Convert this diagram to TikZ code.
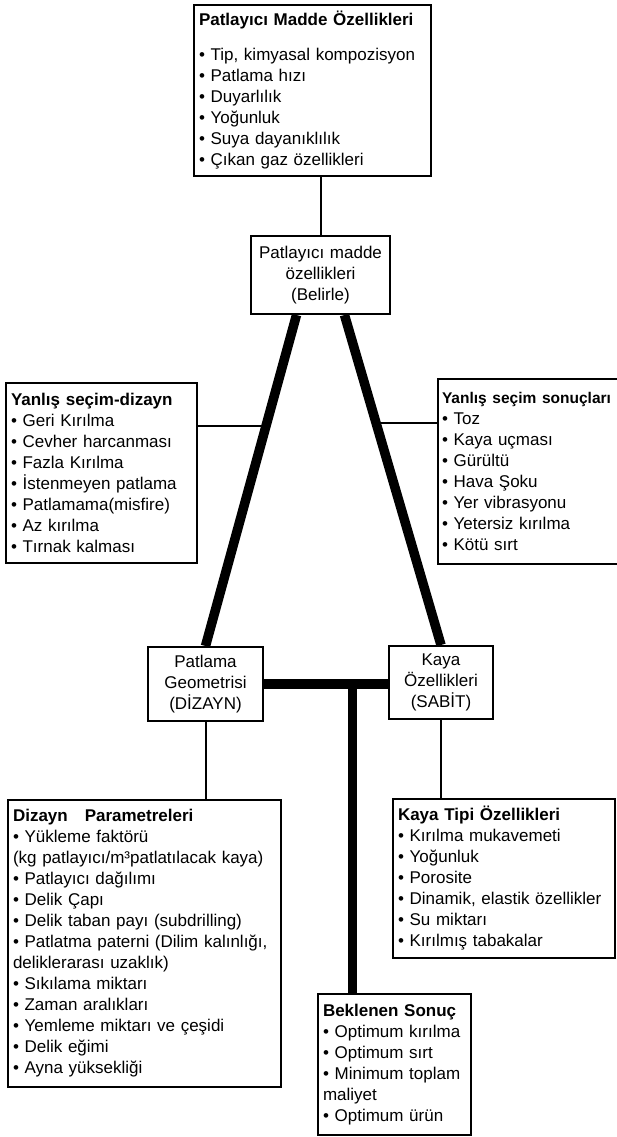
\documentclass[tikz,border=0pt]{standalone}
\usepackage{fontspec}
\setmainfont{Liberation Sans}
\usetikzlibrary{calc}

\begin{document}
\begin{tikzpicture}
[x=1pt,y=-1pt,
  boxDecorate/.style={draw,line width=2pt,anchor=north west,inner xsep=5pt,inner ysep=0pt,font=\fontsize{17}{21}\selectfont},%
  listDecorate/.style={boxDecorate,align=left},%
  mainDecorate/.style={boxDecorate,align=center},%
  lineDecorate/.style={-,line width=2pt},%
  barDecorate/.style={-,line width=9.5pt}]
\useasboundingbox (0,0) rectangle (617,1137);
%% boxes
\node (props) at (193,4) [listDecorate,text width=227pt,minimum height=171pt]
  {\textbf{Patlayıcı Madde Özellikleri}\\[14pt]
   • Tip, kimyasal kompozisyon\\ • Patlama hızı\\ • Duyarlılık\\
   • Yoğunluk\\ • Suya dayanıklılık\\ • Çıkan gaz özellikleri};
\node (charge) at (250,235) [mainDecorate,text width=129pt,minimum height=78pt]
  {Patlayıcı madde\\ özellikleri\\ (Belirle)};
\node (wrongL) at (5,382) [listDecorate,text width=181pt,minimum height=180pt]
  {\textbf{Yanlış seçim-dizayn}\\ • Geri Kırılma\\ • Cevher harcanması\\
   • Fazla Kırılma\\ • İstenmeyen patlama\\ • Patlamama(misfire)\\
   • Az kırılma\\ • Tırnak kalması};
\node (wrongR) at (437,378) [listDecorate,inner xsep=4pt,text width=200pt,minimum height=185pt]
  {{\fontsize{15.5}{21}\selectfont\textbf{Yanlış seçim sonuçları}}\\ • Toz\\ • Kaya uçması\\ • Gürültü\\
   • Hava Şoku\\ • Yer vibrasyonu\\ • Yetersiz kırılma\\ • Kötü sırt};
\node (geo) at (147,646) [mainDecorate,text width=105pt,minimum height=74pt]
  {Patlama\\ Geometrisi\\ (DİZAYN)};
\node (rock) at (388,645) [mainDecorate,text width=94pt,minimum height=73pt]
  {Kaya\\ Özellikleri\\ (SABİT)};
\node (design) at (7,799) [listDecorate,text width=263pt,minimum height=287pt]
  {\textbf{Dizayn\ \ \ Parametreleri}\\ • Yükleme faktörü\\
   (kg patlayıcı/m³patlatılacak kaya)\\ • Patlayıcı dağılımı\\
   • Delik Çapı\\ • Delik taban payı (subdrilling)\\
   • Patlatma paterni (Dilim kalınlığı,\\ deliklerarası uzaklık)\\
   • Sıkılama miktarı\\ • Zaman aralıkları\\ • Yemleme miktarı ve çeşidi\\
   • Delik eğimi\\ • Ayna yüksekliği};
\node (rocktype) at (392,798) [listDecorate,text width=212pt,minimum height=159pt]
  {\textbf{Kaya Tipi Özellikleri}\\ • Kırılma mukavemeti\\ • Yoğunluk\\
   • Porosite\\ • Dinamik, elastik özellikler\\ • Su miktarı\\
   • Kırılmış tabakalar};
\node (result) at (317,993) [listDecorate,text width=143pt,minimum height=141pt]
  {\textbf{Beklenen Sonuç}\\ • Optimum kırılma\\ • Optimum sırt\\
   • Minimum toplam\\ maliyet\\ • Optimum ürün};
%% thin lines
\draw[lineDecorate] (charge.north) -- (charge.north |- props.south);
\foreach \upper/\lower in {geo/design, rock/rocktype}
{
  \draw[lineDecorate] (\upper.south) -- (\upper.south |- \lower.north);
}
%% thick lines
\draw[barDecorate] ($(charge.south)+(-24,0)$) -- coordinate[pos=0.336] (joinL) (geo.north);
\draw[barDecorate] ($(charge.south)+(24,0)$) -- coordinate[pos=0.328] (joinR) (rock.north);
\draw[lineDecorate] (joinL) -- (joinL -| wrongL.east);
\draw[lineDecorate] (joinR) -- (joinR -| wrongR.west);
\draw[barDecorate] (geo.east) -- coordinate[pos=0.714] (hub) (geo.east -| rock.west);
\draw[barDecorate] (hub) -- (hub |- result.north);
\end{tikzpicture}
\end{document}
